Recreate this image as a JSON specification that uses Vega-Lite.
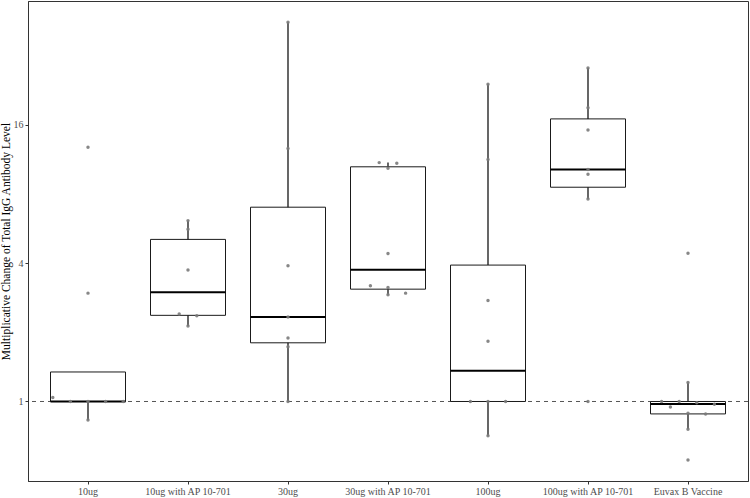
{
  "$schema": "https://vega.github.io/schema/vega-lite/v6.json",
  "width": 720,
  "height": 480,
  "autosize": {"type": "none"},
  "padding": {"left": 28, "top": 1, "right": 2, "bottom": 17},
  "background": "white",
  "config": {
    "font": "Liberation Serif",
    "view": {"stroke": "#333333", "strokeWidth": 1},
    "axis": {
      "labelFont": "Liberation Serif",
      "titleFont": "Liberation Serif",
      "labelFontSize": 10,
      "labelColor": "#4d4d4d",
      "tickColor": "#333333",
      "domainColor": "#333333",
      "tickSize": 3,
      "labelPadding": 2,
      "grid": false,
      "titleFontWeight": "normal",
      "titleColor": "#000000",
      "titleFontSize": 11.5
    }
  },
  "datasets": {
    "boxes": [
      {"group": "10ug", "lower": 0.831, "q1": 1.0, "median": 1.0, "q3": 1.344, "upper": 1.344},
      {"group": "10ug with AP 10-701", "lower": 2.13, "q1": 2.37, "median": 2.99, "q3": 5.07, "upper": 6.12},
      {"group": "30ug", "lower": 1.0, "q1": 1.80, "median": 2.33, "q3": 7.0, "upper": 44.6},
      {"group": "30ug with AP 10-701", "lower": 2.91, "q1": 3.08, "median": 3.74, "q3": 10.49, "upper": 10.94},
      {"group": "100ug", "lower": 0.71, "q1": 1.0, "median": 1.36, "q3": 3.92, "upper": 24.0},
      {"group": "100ug with AP 10-701", "lower": 7.6, "q1": 8.55, "median": 10.2, "q3": 16.95, "upper": 28.2},
      {"group": "Euvax B Vaccine", "lower": 0.757, "q1": 0.883, "median": 0.975, "q3": 1.0, "upper": 1.21}
    ],
    "points": [
      {"group": "10ug", "value": 12.76},
      {"group": "10ug", "value": 2.96},
      {"group": "10ug", "value": 1.04},
      {"group": "10ug", "value": 1.0},
      {"group": "10ug", "value": 1.0},
      {"group": "10ug", "value": 1.0},
      {"group": "10ug", "value": 1.0},
      {"group": "10ug", "value": 0.831},
      {"group": "10ug with AP 10-701", "value": 6.12},
      {"group": "10ug with AP 10-701", "value": 5.61},
      {"group": "10ug with AP 10-701", "value": 3.73},
      {"group": "10ug with AP 10-701", "value": 2.40},
      {"group": "10ug with AP 10-701", "value": 2.36},
      {"group": "10ug with AP 10-701", "value": 2.13},
      {"group": "30ug", "value": 44.6},
      {"group": "30ug", "value": 12.6},
      {"group": "30ug", "value": 3.89},
      {"group": "30ug", "value": 2.33},
      {"group": "30ug", "value": 1.89},
      {"group": "30ug", "value": 1.73},
      {"group": "30ug", "value": 1.0},
      {"group": "30ug with AP 10-701", "value": 10.94},
      {"group": "30ug with AP 10-701", "value": 10.87},
      {"group": "30ug with AP 10-701", "value": 10.34},
      {"group": "30ug with AP 10-701", "value": 4.40},
      {"group": "30ug with AP 10-701", "value": 3.19},
      {"group": "30ug with AP 10-701", "value": 3.13},
      {"group": "30ug with AP 10-701", "value": 2.96},
      {"group": "30ug with AP 10-701", "value": 2.91},
      {"group": "100ug", "value": 24.0},
      {"group": "100ug", "value": 11.3},
      {"group": "100ug", "value": 2.75},
      {"group": "100ug", "value": 1.83},
      {"group": "100ug", "value": 1.0},
      {"group": "100ug", "value": 1.0},
      {"group": "100ug", "value": 1.0},
      {"group": "100ug", "value": 0.71},
      {"group": "100ug with AP 10-701", "value": 28.2},
      {"group": "100ug with AP 10-701", "value": 18.97},
      {"group": "100ug with AP 10-701", "value": 15.17},
      {"group": "100ug with AP 10-701", "value": 10.2},
      {"group": "100ug with AP 10-701", "value": 9.74},
      {"group": "100ug with AP 10-701", "value": 7.6},
      {"group": "100ug with AP 10-701", "value": 1.0},
      {"group": "Euvax B Vaccine", "value": 4.41},
      {"group": "Euvax B Vaccine", "value": 1.21},
      {"group": "Euvax B Vaccine", "value": 1.0},
      {"group": "Euvax B Vaccine", "value": 1.0},
      {"group": "Euvax B Vaccine", "value": 0.988},
      {"group": "Euvax B Vaccine", "value": 0.972},
      {"group": "Euvax B Vaccine", "value": 0.946},
      {"group": "Euvax B Vaccine", "value": 0.888},
      {"group": "Euvax B Vaccine", "value": 0.882},
      {"group": "Euvax B Vaccine", "value": 0.757},
      {"group": "Euvax B Vaccine", "value": 0.557}
    ],
    "ref": [{"level": 1}]
  },
  "encoding": {
    "x": {
      "field": "group",
      "type": "nominal",
      "sort": ["10ug", "10ug with AP 10-701", "30ug", "30ug with AP 10-701", "100ug", "100ug with AP 10-701", "Euvax B Vaccine"],
      "scale": {"type": "band", "paddingInner": 0, "paddingOuter": 0.1},
      "axis": {"title": null, "labelAngle": 0}
    }
  },
  "layer": [
    {
      "data": {"name": "boxes"},
      "mark": {"type": "rule", "color": "#000000", "strokeWidth": 1.2},
      "encoding": {
        "y": {"field": "lower", "type": "quantitative", "scale": {"type": "log", "base": 2, "domain": [0.451, 55.2], "nice": false, "zero": false}, "axis": {"title": "Multiplicative Change of Total IgG Antibody Level", "values": [1, 4, 16], "titlePadding": 2}},
        "y2": {"field": "upper"}
      }
    },
    {
      "data": {"name": "ref"},
      "mark": {"type": "rule", "color": "#555555", "strokeWidth": 1, "strokeDash": [4, 4]},
      "encoding": {
        "x": null,
        "y": {"field": "level", "type": "quantitative"}
      }
    },
    {
      "data": {"name": "boxes"},
      "mark": {"type": "bar", "fill": "white", "stroke": "#1a1a1a", "strokeWidth": 1, "width": 75, "opacity": 1},
      "encoding": {
        "y": {"field": "q1", "type": "quantitative"},
        "y2": {"field": "q3"}
      }
    },
    {
      "data": {"name": "boxes"},
      "mark": {"type": "tick", "color": "#000000", "opacity": 1, "size": 75, "thickness": 2, "orient": "horizontal"},
      "encoding": {
        "y": {"field": "median", "type": "quantitative"}
      }
    },
    {
      "data": {"name": "points"},
      "transform": [
        {"calculate": "round(log(datum.value) / log(2) * 8)", "as": "bin"},
        {"window": [{"op": "row_number", "as": "rank"}, {"op": "count", "as": "n"}], "groupby": ["group", "bin"], "sort": [{"field": "value", "order": "descending"}], "frame": [null, null]},
        {"calculate": "datum.rank - (datum.n + 1) / 2", "as": "slot"}
      ],
      "mark": {"type": "circle", "color": "#7a7a7a", "opacity": 0.9, "size": 12},
      "encoding": {
        "y": {"field": "value", "type": "quantitative"},
        "xOffset": {"field": "slot", "type": "quantitative", "scale": {"domain": [-1, 1], "range": [32.4, 67.6]}}
      }
    }
  ]
}
